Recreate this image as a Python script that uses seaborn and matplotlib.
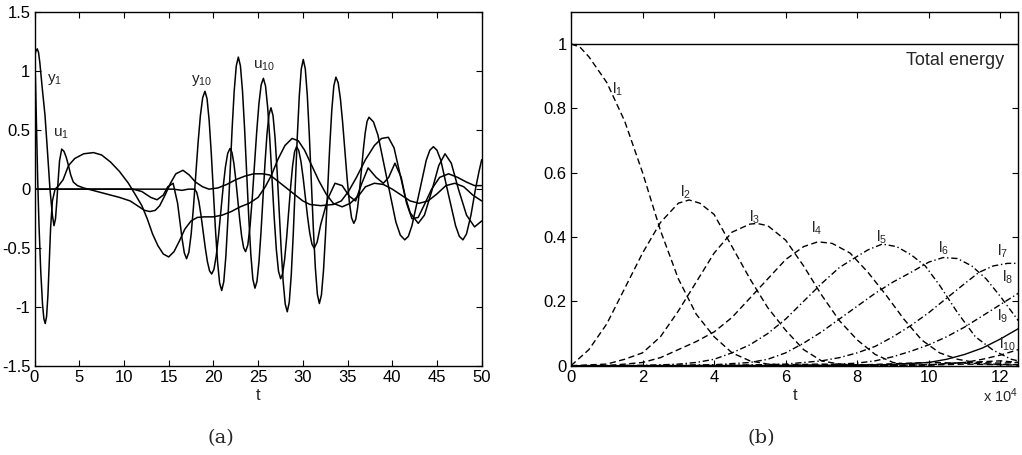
import matplotlib
matplotlib.use("Agg")
import matplotlib.pyplot as plt
import pandas as pd
import seaborn as sns

# ---------------- panel (a) data ----------------
y1_t = [0, 0.1, 0.2, 0.35, 0.5, 0.7, 0.9, 1.05, 1.2, 1.35, 1.5, 1.65, 1.8, 2.0, 2.3, 2.7, 3.2, 3.8,
        4.5, 5.5, 6.6, 7.5, 8.5, 9.5, 10.5, 11.3, 12.0, 12.6, 13.2, 13.8, 14.4, 15.0, 15.6, 16.2,
        16.8, 17.5, 18.2, 19.0, 20.0, 21.0, 22.0, 23.0, 24.0, 25.0, 25.8, 26.5, 27.2, 28.0, 28.8,
        29.5, 30.2, 31.0, 31.8, 32.6, 33.4, 34.4, 35.3, 36.3, 37.0, 38.0, 39.0, 40.0, 41.0, 42.0,
        43.0, 44.0, 45.0, 46.0, 47.0, 48.0, 49.0, 50.0]
y1_v = [1.17, 0.95, 0.62, 0.1, -0.3, -0.7, -0.98, -1.1, -1.14, -1.08, -0.9, -0.62, -0.33, -0.1,
        0.0, 0.03, 0.08, 0.2, 0.26, 0.3, 0.31, 0.29, 0.23, 0.15, 0.05, -0.05, -0.14, -0.25, -0.38,
        -0.48, -0.55, -0.575, -0.53, -0.44, -0.34, -0.27, -0.24, -0.235, -0.235, -0.22, -0.19,
        -0.15, -0.12, -0.07, 0.02, 0.12, 0.25, 0.37, 0.43, 0.41, 0.33, 0.2, 0.07, -0.04, -0.12,
        -0.15, -0.12, -0.05, 0.02, 0.05, 0.04, 0.0, -0.05, -0.1, -0.12, -0.1, -0.04, 0.03, 0.05,
        0.02, -0.05, -0.1]

u1_t = [0, 0.15, 0.31, 0.45, 0.6, 0.75, 0.9, 1.17, 1.45, 1.73, 2.0, 2.18, 2.35, 2.5, 2.65, 2.8,
        3.04, 3.3, 3.55, 3.8, 4.05, 4.34, 4.8, 5.5, 6.5, 7.5, 8.5, 9.5, 10.7, 11.5, 12.3, 12.9,
        13.5, 14.0, 14.6, 15.2, 15.8, 16.6, 17.3, 18.0, 18.8, 19.5, 20.5, 21.5, 22.5, 23.5, 24.5,
        25.5, 26.3, 27.0, 28.0, 29.0, 30.0, 30.8, 32.0, 33.4, 34.3, 35.1, 36.0, 37.0, 38.0, 38.8,
        39.56, 40.2, 40.8, 41.4, 42.0, 42.9, 43.6, 44.4, 45.2, 45.9, 46.6, 47.4, 48.3, 49.2, 50.0]
u1_v = [1.12, 1.17, 1.19, 1.16, 1.07, 0.95, 0.83, 0.63, 0.32, 0.0, -0.22, -0.31, -0.25, -0.1,
        0.08, 0.24, 0.34, 0.32, 0.27, 0.2, 0.12, 0.06, 0.03, 0.01, -0.01, -0.03, -0.05, -0.07,
        -0.1, -0.14, -0.18, -0.19, -0.18, -0.14, -0.05, 0.05, 0.13, 0.16, 0.12, 0.06, 0.02, 0.0,
        0.01, 0.04, 0.08, 0.11, 0.13, 0.13, 0.12, 0.08, 0.02, -0.04, -0.1, -0.13, -0.14, -0.13,
        -0.1, -0.02, 0.1, 0.25, 0.37, 0.43, 0.44, 0.35, 0.15, -0.05, -0.2, -0.29, -0.22, -0.02,
        0.2, 0.3, 0.22, 0.0, -0.22, -0.32, -0.27]

y10_t = [0, 11, 12, 13, 13.7, 14.4, 14.9, 15.5, 16.0, 16.5, 16.75, 17.0,
         17.258, 17.515, 17.773, 18.03, 18.288, 18.545, 18.803, 19.06,
         19.294, 19.528, 19.761, 19.995, 20.229, 20.463, 20.696, 20.93,
         21.163, 21.395, 21.628, 21.86, 22.093, 22.325, 22.558, 22.79,
         23.023, 23.255, 23.488, 23.72, 23.953, 24.185, 24.418, 24.65,
         24.874, 25.098, 25.321, 25.545, 25.769, 25.993, 26.216, 26.44,
         26.668, 26.895, 27.123, 27.35, 27.578, 27.805, 28.033, 28.26,
         28.484, 28.708, 28.931, 29.155, 29.379, 29.603, 29.826, 30.05,
         30.275, 30.5, 30.725, 30.95, 31.175, 31.4, 31.625, 31.85,
         32.081, 32.313, 32.544, 32.775, 33.006, 33.238, 33.469, 33.7,
         33.95, 34.2, 34.45, 34.7, 34.95, 35.2, 35.45, 35.7,
         35.913, 36.125, 36.338, 36.55, 36.763, 36.975, 37.188, 37.4,
         37.9, 38.4, 39.4, 40.4, 40.9, 41.4, 41.8, 42.2, 43.0, 43.8, 44.2, 44.6,
         45.0, 45.43, 46.25, 47.08, 47.5, 47.9, 48.3, 48.8, 49.3, 49.7, 50.0]
y10_v = [0, 0, -0.02, -0.07, -0.09, -0.05, 0.02, 0.05, -0.12, -0.42, -0.54, -0.59,
         -0.536, -0.382, -0.152, 0.12, 0.392, 0.622, 0.776, 0.83,
         0.766, 0.582, 0.309, -0.015, -0.339, -0.612, -0.796, -0.86,
         -0.785, -0.57, -0.249, 0.13, 0.509, 0.83, 1.045, 1.12,
         1.046, 0.833, 0.515, 0.14, -0.235, -0.553, -0.766, -0.84,
         -0.782, -0.616, -0.368, -0.075, 0.218, 0.466, 0.632, 0.69,
         0.624, 0.437, 0.156, -0.175, -0.506, -0.787, -0.974, -1.04,
         -0.959, -0.727, -0.38, 0.03, 0.44, 0.787, 1.019, 1.1,
         1.021, 0.797, 0.461, 0.065, -0.331, -0.667, -0.891, -0.97,
         -0.897, -0.689, -0.377, -0.01, 0.357, 0.669, 0.877, 0.95,
         0.903, 0.768, 0.567, 0.33, 0.093, -0.108, -0.243, -0.29,
         -0.256, -0.158, -0.012, 0.16, 0.332, 0.478, 0.576, 0.61,
         0.57, 0.458, 0.09, -0.278, -0.39, -0.43, -0.4, -0.31, -0.035, 0.245, 0.33, 0.36,
         0.33, 0.245, -0.035, -0.31, -0.4, -0.43, -0.38, -0.22, 0.0, 0.15, 0.25]

u10_t = [0, 15.5, 16.5, 17.2, 17.9,
         18.139, 18.378, 18.616, 18.855, 19.094, 19.333, 19.571, 19.81,
         20.066, 20.323, 20.579, 20.835, 21.091, 21.348, 21.604, 21.86,
         22.078, 22.295, 22.513, 22.73, 22.948, 23.165, 23.383, 23.6,
         23.849, 24.098, 24.346, 24.595, 24.844, 25.093, 25.341, 25.59,
         25.831, 26.073, 26.314, 26.555, 26.796, 27.038, 27.279, 27.52,
         27.743, 27.965, 28.188, 28.41, 28.633, 28.855, 29.078, 29.3,
         29.546, 29.793, 30.039, 30.285, 30.531, 30.778, 31.024, 31.27,
         31.6, 32.0, 32.8, 33.6, 34.4, 35.2, 35.9, 36.6, 37.3, 38.2, 39.0, 39.6, 40.3, 41.0,
         41.6, 42.2, 42.9, 43.6, 44.4, 45.3, 46.3, 47.3, 48.3, 49.2, 50.0]
u10_v = [0, 0.0, -0.01, 0.0, 0.0,
         -0.027, -0.105, -0.222, -0.36, -0.498, -0.615, -0.693, -0.72,
         -0.679, -0.564, -0.391, -0.188, 0.016, 0.189, 0.304, 0.345,
         0.312, 0.217, 0.075, -0.093, -0.26, -0.402, -0.497, -0.53,
         -0.474, -0.315, -0.076, 0.205, 0.486, 0.725, 0.884, 0.94,
         0.875, 0.691, 0.416, 0.09, -0.236, -0.511, -0.695, -0.76,
         -0.717, -0.596, -0.414, -0.2, 0.014, 0.196, 0.317, 0.36,
         0.327, 0.234, 0.095, -0.07, -0.235, -0.374, -0.467, -0.5,
         -0.45, -0.3, -0.08, 0.05, 0.03, -0.06, -0.1, 0.05, 0.18, 0.1, 0.05, 0.1, 0.22, 0.1,
         -0.12, -0.25, -0.24, -0.13, 0.0, 0.1, 0.13, 0.1, 0.06, 0.03, 0.03]

# ---------------- panel (b) data (t in units of 1e4) ----------------
total_t = [0, 12.5]
total_v = [1.0, 1.0]

l1_t = [0, 0.25, 0.5, 1, 1.5, 2, 2.5, 3, 3.5, 4, 4.5, 5, 5.5, 6, 7, 8, 9, 10, 11, 12, 12.5]
l1_v = [1.0, 0.99, 0.96, 0.88, 0.76, 0.6, 0.42, 0.27, 0.16, 0.09, 0.04, 0.015, 0.005, 0.003,
        0.005, 0.003, 0.0, 0.002, 0.005, 0.003, 0.002]
l2_t = [0, 0.5, 1, 1.5, 2, 2.5, 3, 3.3, 3.6, 4, 4.5, 5, 5.5, 6, 6.5, 7, 7.5, 8, 9, 10, 11, 12, 12.5]
l2_v = [0, 0.05, 0.13, 0.24, 0.35, 0.445, 0.505, 0.515, 0.505, 0.47, 0.37, 0.27, 0.18, 0.11,
        0.05, 0.015, 0.005, 0.002, 0.006, 0.01, 0.008, 0.004, 0.003]
l3_t = [0, 1, 1.5, 2, 2.5, 3, 3.5, 4, 4.5, 5, 5.2, 5.5, 6, 6.5, 7, 7.5, 8, 8.5, 9, 9.5, 10, 11,
        12, 12.5]
l3_v = [0, 0.005, 0.02, 0.04, 0.09, 0.17, 0.26, 0.35, 0.415, 0.44, 0.442, 0.435, 0.39, 0.31,
        0.22, 0.14, 0.08, 0.035, 0.01, 0.003, 0.002, 0.01, 0.015, 0.01]
l4_t = [0, 1, 2, 2.5, 3, 3.5, 4, 4.5, 5, 5.5, 6, 6.5, 6.9, 7.3, 7.8, 8.3, 8.8, 9.3, 9.8, 10.3,
        10.8, 11.3, 12, 12.5]
l4_v = [0, 0.0, 0.01, 0.025, 0.05, 0.075, 0.105, 0.15, 0.21, 0.27, 0.33, 0.37, 0.385, 0.38,
        0.35, 0.29, 0.22, 0.145, 0.08, 0.04, 0.02, 0.01, 0.008, 0.01]
l5_t = [0, 2, 3, 3.5, 4, 4.5, 5, 5.5, 6, 6.5, 7, 7.5, 8, 8.3, 8.7, 9.1, 9.5, 9.9, 10.3, 10.8,
        11.3, 11.8, 12.3, 12.5]
l5_v = [0, 0.0, 0.005, 0.01, 0.02, 0.04, 0.065, 0.1, 0.145, 0.2, 0.255, 0.305, 0.34, 0.36,
        0.378, 0.37, 0.345, 0.31, 0.25, 0.165, 0.09, 0.048, 0.02, 0.015]
l6_t = [0, 3, 4, 5, 5.5, 6, 6.5, 7, 7.5, 8, 8.5, 9, 9.5, 10, 10.4, 10.8, 11.2, 11.6, 12, 12.5]
l6_v = [0, 0.0, 0.003, 0.01, 0.02, 0.04, 0.07, 0.105, 0.145, 0.185, 0.225, 0.26, 0.29, 0.322,
        0.336, 0.333, 0.31, 0.27, 0.215, 0.14]
l7_t = [0, 5, 6, 7, 7.5, 8, 8.5, 9, 9.5, 10, 10.5, 11, 11.4, 11.8, 12.2, 12.5]
l7_v = [0, 0.002, 0.005, 0.015, 0.025, 0.04, 0.06, 0.09, 0.125, 0.165, 0.21, 0.255, 0.29, 0.31,
        0.318, 0.318]
l8_t = [0, 7, 8, 8.5, 9, 9.5, 10, 10.5, 11, 11.5, 12, 12.5]
l8_v = [0, 0.002, 0.008, 0.015, 0.028, 0.045, 0.065, 0.09, 0.12, 0.155, 0.19, 0.225]
l9_t = [0, 8, 9, 10, 10.5, 11, 11.5, 12, 12.5]
l9_v = [0, 0.001, 0.004, 0.01, 0.02, 0.035, 0.055, 0.083, 0.115]
l10_t = [0, 9, 10, 11, 11.5, 12, 12.5]
l10_v = [0, 0.001, 0.003, 0.01, 0.02, 0.033, 0.05]

a_ticks_x = [0, 5, 10, 15, 20, 25, 30, 35, 40, 45, 50]
a_ticks_y = [-1.5, -1, -0.5, 0, 0.5, 1, 1.5]
a_ticklabels_y = ["-1.5", "-1", "-0.5", "0", "0.5", "1", "1.5"]
b_ticks_x = [0, 2, 4, 6, 8, 10, 12]
b_ticks_y = [0, 0.2, 0.4, 0.6, 0.8, 1.0]
b_ticklabels_y = ["0", "0.2", "0.4", "0.6", "0.8", "1"]

# ---------------- style ----------------
sns.set_theme(style="ticks")
plt.rcParams['font.family'] = ['Liberation Sans', 'DejaVu Sans']
plt.rcParams['mathtext.fontset'] = 'custom'
plt.rcParams['mathtext.rm'] = 'Liberation Sans'
plt.rcParams['mathtext.it'] = 'Liberation Sans:italic'
plt.rcParams['lines.solid_joinstyle'] = 'round'

W, H = 1022, 455
fig = plt.figure(figsize=(W / 100, H / 100), dpi=100)
axa = fig.add_axes([34.5 / W, (H - 366) / H, 447.2 / W, 353.7 / H])
axb = fig.add_axes([571 / W, (H - 365.7) / H, 447.3 / W, 354 / H])


def draw(ax, t, v, ls='-', lw=1.0):
    df = pd.DataFrame({'t': t, 'v': v})
    sns.lineplot(data=df, x='t', y='v', ax=ax, color='black', linewidth=lw,
                 estimator=None, sort=False, errorbar=None, linestyle=ls)


for t, v in [(y1_t, y1_v), (u1_t, u1_v), (y10_t, y10_v), (u10_t, u10_v)]:
    draw(axa, t, v, '-', 1.1)

dash = (0, (4.5, 2.5))
dashdot = (0, (4.5, 2, 1, 2))
draw(axb, total_t, total_v, '-', 1.0)
for t, v, ls in [(l1_t, l1_v, dash), (l2_t, l2_v, dash), (l3_t, l3_v, dash),
                 (l4_t, l4_v, dash), (l5_t, l5_v, dashdot), (l6_t, l6_v, dashdot),
                 (l7_t, l7_v, dashdot), (l8_t, l8_v, dashdot), (l9_t, l9_v, '-'),
                 (l10_t, l10_v, dash)]:
    draw(axb, t, v, ls, 1.0)

for ax in (axa, axb):
    for s in ax.spines.values():
        s.set_visible(True)
        s.set_color('black')
        s.set_linewidth(1.0)
    ax.tick_params(direction='in', top=True, right=True, length=4, width=0.8,
                   labelsize=12, colors='black', pad=3)
    ax.set_ylabel('')
    ax.set_xlabel('t', fontsize=12, labelpad=2)
    ax.grid(False)

axa.set_xlim(0, 50)
axa.set_ylim(-1.5, 1.5)
axa.set_xticks(a_ticks_x)
axa.set_yticks(a_ticks_y)
axa.set_yticklabels(a_ticklabels_y)

axb.set_xlim(0, 12.5)
axb.set_ylim(0, 1.1)
axb.set_xticks(b_ticks_x)
axb.set_xticklabels([str(x) for x in b_ticks_x])
axb.set_yticks(b_ticks_y)
axb.set_yticklabels(b_ticklabels_y)

# curve labels
lab_a = [("y", "1", 2.2, 0.93), ("u", "1", 3.0, 0.47), ("y", "10", 18.7, 0.92),
         ("u", "10", 25.7, 1.05)]
for base, sub, x, y in lab_a:
    axa.text(x, y, r'$\mathregular{%s_{%s}}$' % (base, sub), fontsize=11,
             ha='center', va='center')

lab_b = [("1", 1.31, 0.858), ("2", 3.21, 0.54), ("3", 5.14, 0.46), ("4", 6.85, 0.427),
         ("5", 8.67, 0.40), ("6", 10.4, 0.365), ("7", 12.05, 0.355), ("8", 12.2, 0.275),
         ("9", 12.05, 0.153), ("10", 12.2, 0.065)]
for sub, x, y in lab_b:
    axb.text(x, y, r'$\mathregular{l_{%s}}$' % sub, fontsize=11, ha='center', va='center')

axb.text(12.1, 0.948, 'Total energy', fontsize=13, ha='right', va='center')

fig.text(1018 / W, 1 - 396 / H, r'x 10$^{4}$', fontsize=10.5, ha='right', va='center')
fig.text(221 / W, 1 - 438 / H, '(a)', fontsize=14, family='DejaVu Serif',
         ha='center', va='center')
fig.text(761 / W, 1 - 438 / H, '(b)', fontsize=14, family='DejaVu Serif',
         ha='center', va='center')

fig.savefig('out.png', dpi=100)
